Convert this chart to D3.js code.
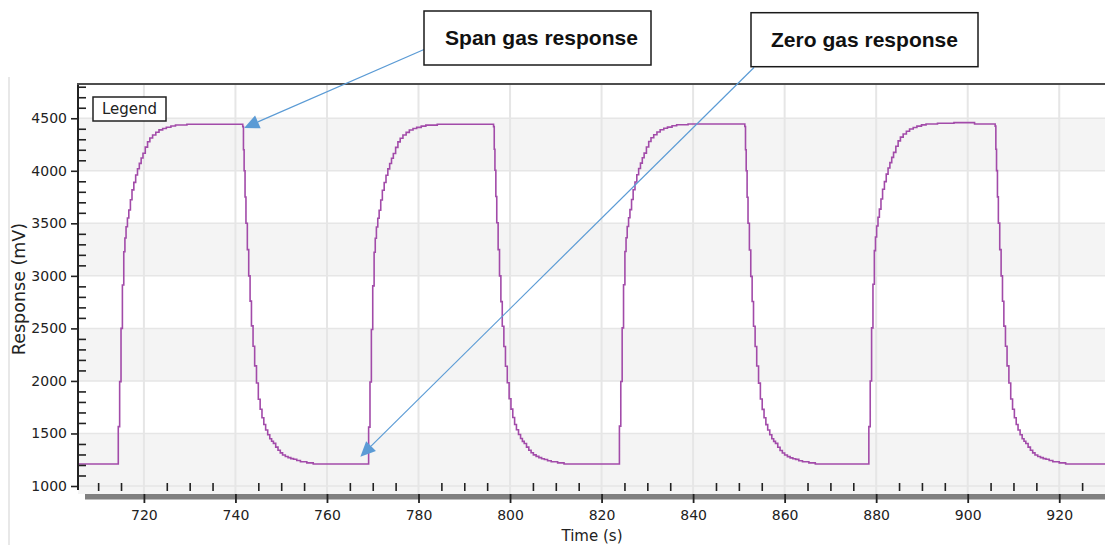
<!DOCTYPE html>
<html>
<head>
<meta charset="utf-8">
<script src="https://cdn.jsdelivr.net/npm/d3@7"></script>
<style>
  html, body { margin: 0; padding: 0; background: #fff; }
  svg { display: block; }
</style>
</head>
<body>
<svg id="chart" width="1105" height="545"></svg>
<script>
// ---------------- DATA ----------------
const time = [
  705.0,
  714.4, 714.7, 715.0, 715.3, 715.6, 715.85, 716.1, 716.4, 716.7, 717.05, 717.4, 717.8, 718.2, 718.6, 719.0, 719.4, 719.8, 720.3, 720.8, 721.3, 721.9, 722.6, 723.3, 724.1, 724.9, 725.9, 726.9, 729.4,
  741.6, 741.75, 741.9, 742.1, 742.3, 742.6, 742.9, 743.2, 743.5, 743.85, 744.2, 744.6, 745.0, 745.4, 745.8, 746.2, 746.6, 747.05, 747.5, 747.9, 748.3, 748.8, 749.3, 749.8, 750.3, 750.9, 751.5, 752.1, 752.7, 753.4, 754.2, 755.6, 757.0,
  769.1, 769.4, 769.7, 770.0, 770.3, 770.55, 770.8, 771.1, 771.4, 771.75, 772.1, 772.5, 772.9, 773.3, 773.7, 774.1, 774.5, 775.0, 775.5, 776.0, 776.6, 777.3, 778.0, 778.8, 779.6, 780.6, 781.6, 784.1,
  796.4, 796.55, 796.7, 796.9, 797.1, 797.4, 797.7, 798.0, 798.3, 798.65, 799.0, 799.4, 799.8, 800.2, 800.6, 801.0, 801.4, 801.85, 802.3, 802.7, 803.1, 803.6, 804.1, 804.6, 805.1, 805.7, 806.3, 806.9, 807.5, 808.2, 809.0, 810.4, 811.8,
  823.9, 824.2, 824.5, 824.8, 825.1, 825.35, 825.6, 825.9, 826.2, 826.55, 826.9, 827.3, 827.7, 828.1, 828.5, 828.9, 829.3, 829.8, 830.3, 830.8, 831.4, 832.1, 832.8, 833.6, 834.4, 835.4, 836.4, 838.9,
  851.3, 851.45, 851.6, 851.8, 852.0, 852.3, 852.6, 852.9, 853.2, 853.55, 853.9, 854.3, 854.7, 855.1, 855.5, 855.9, 856.3, 856.75, 857.2, 857.6, 858.0, 858.5, 859.0, 859.5, 860.0, 860.6, 861.2, 861.8, 862.4, 863.1, 863.9, 865.3, 866.7,
  878.4, 878.7, 879.0, 879.3, 879.6, 879.85, 880.1, 880.4, 880.7, 881.05, 881.4, 881.8, 882.2, 882.6, 883.0, 883.4, 883.8, 884.3, 884.8, 885.3, 885.9, 886.6, 887.3, 888.1, 888.9, 889.9, 890.9, 893.4, 897.0, 901.5,
  906.0, 906.15, 906.3, 906.5, 906.7, 907.0, 907.3, 907.6, 907.9, 908.25, 908.6, 909.0, 909.4, 909.8, 910.2, 910.6, 911.0, 911.45, 911.9, 912.3, 912.7, 913.2, 913.7, 914.2, 914.7, 915.3, 915.9, 916.5, 917.1, 917.8, 918.6, 920.0, 921.4, 932.0
];
const response = [
  1209,
  1565, 1993, 2500, 2913, 3230, 3360, 3468, 3550, 3627, 3725, 3818, 3890, 3960, 4020, 4071, 4122, 4167, 4225, 4277, 4312, 4341, 4367, 4389, 4403, 4414, 4426, 4436, 4443,
  4420, 4200, 4000, 3750, 3500, 3250, 3000, 2760, 2524, 2330, 2143, 1980, 1826, 1730, 1650, 1585, 1533, 1488, 1450, 1426, 1406, 1370, 1340, 1315, 1295, 1281, 1270, 1261, 1254, 1242, 1231, 1220, 1209,
  1560, 1990, 2490, 2905, 3225, 3358, 3465, 3548, 3625, 3722, 3815, 3888, 3958, 4018, 4070, 4120, 4165, 4223, 4275, 4310, 4340, 4366, 4388, 4402, 4413, 4425, 4435, 4443,
  4420, 4205, 4005, 3755, 3505, 3250, 3000, 2755, 2520, 2328, 2140, 1982, 1830, 1732, 1652, 1586, 1535, 1490, 1452, 1425, 1405, 1370, 1340, 1316, 1296, 1282, 1270, 1260, 1252, 1241, 1231, 1220, 1209,
  1570, 1995, 2505, 2915, 3232, 3362, 3470, 3553, 3630, 3727, 3820, 3893, 3962, 4022, 4073, 4124, 4168, 4227, 4279, 4314, 4343, 4369, 4391, 4405, 4416, 4428, 4438, 4445,
  4422, 4200, 4000, 3748, 3500, 3246, 2995, 2756, 2520, 2328, 2142, 1979, 1828, 1729, 1650, 1584, 1533, 1488, 1450, 1425, 1406, 1369, 1338, 1314, 1295, 1280, 1268, 1260, 1253, 1241, 1231, 1220, 1209,
  1565, 2000, 2505, 2920, 3240, 3370, 3475, 3558, 3635, 3732, 3825, 3897, 3968, 4027, 4078, 4128, 4175, 4233, 4285, 4320, 4350, 4376, 4398, 4412, 4425, 4437, 4446, 4452, 4458, 4446,
  4425, 4205, 4002, 3752, 3502, 3250, 3000, 2758, 2522, 2330, 2143, 1980, 1828, 1730, 1650, 1585, 1533, 1488, 1450, 1426, 1405, 1370, 1340, 1315, 1295, 1281, 1270, 1261, 1254, 1242, 1231, 1220, 1209, 1209
];
const xMajorTicks = [720, 740, 760, 780, 800, 820, 840, 860, 880, 900, 920];
const xMinorTicks = [710, 715, 725, 730, 735, 745, 750, 755, 765, 770, 775, 785, 790, 795, 805, 810, 815,
  825, 830, 835, 845, 850, 855, 865, 870, 875, 885, 890, 895, 905, 910, 915, 925, 930];
const yMajorTicks = [1000, 1500, 2000, 2500, 3000, 3500, 4000, 4500];
const yMinorTicks = [1100, 1200, 1300, 1400, 1600, 1700, 1800, 1900, 2100, 2200, 2300, 2400,
  2600, 2700, 2800, 2900, 3100, 3200, 3300, 3400, 3600, 3700, 3800, 3900,
  4100, 4200, 4300, 4400, 4600, 4700, 4800];
const shadedBands = [[1000, 1500], [2000, 2500], [3000, 3500], [4000, 4500]];
const xTitle = "Time (s)";
const yTitle = "Response (mV)";
const legendLabel = "Legend";
// annotations: label and the point (time, response) the arrow points to
const annotationLabels = ["Span gas response", "Zero gas response"];
const annotationTargets = [[741.9, 4408], [767.3, 1279]];

// ---------------- LAYOUT ----------------
const W = 1105, H = 545;
const plotLeft = 78, plotTop = 84, plotRight = 1105, plotBottom = 494;
const FONT = "'DejaVu Sans', Verdana, sans-serif";

const svg = d3.select("#chart");
svg.append("rect").attr("width", W).attr("height", H).attr("fill", "#fff");

const x = d3.scaleLinear().domain([705.6, 930]).range([plotLeft, plotRight]);
const y = d3.scaleLinear().domain([1000, 4826]).range([486, plotTop]);

// faint outer panel line
svg.append("line").attr("x1", 9).attr("x2", 9).attr("y1", 77).attr("y2", H)
  .attr("stroke", "#e8e8e8").attr("stroke-width", 2);

// shaded bands
svg.append("g").selectAll("rect").data(shadedBands).join("rect")
  .attr("x", plotLeft)
  .attr("width", plotRight - plotLeft)
  .attr("y", d => y(d[1]))
  .attr("height", d => (d[0] === 1000 ? plotBottom : y(d[0])) - y(d[1]))
  .attr("fill", "#f4f4f4");

// grid
const grid = svg.append("g");
grid.selectAll("line.h").data(yMajorTicks).join("line").attr("class", "h")
  .attr("x1", plotLeft).attr("x2", plotRight)
  .attr("y1", d => y(d)).attr("y2", d => y(d))
  .attr("stroke", "#e6e6e6").attr("stroke-width", 1.5);
grid.selectAll("line.v").data(xMajorTicks).join("line").attr("class", "v")
  .attr("x1", d => x(d)).attr("x2", d => x(d))
  .attr("y1", plotTop).attr("y2", plotBottom)
  .attr("stroke", "#e6e6e6").attr("stroke-width", 2);

// clip
svg.append("clipPath").attr("id", "clip").append("rect")
  .attr("x", plotLeft + 1).attr("y", plotTop + 1)
  .attr("width", plotRight - plotLeft).attr("height", plotBottom - plotTop - 2);

// series line
const n = Math.min(time.length, response.length);
const pts = d3.range(n).map(i => [time[i], response[i]]);
const line = d3.line().x(d => x(d[0])).y(d => y(d[1])).curve(d3.curveStepAfter);
svg.append("path").attr("clip-path", "url(#clip)")
  .attr("d", line(pts))
  .attr("fill", "none").attr("stroke", "#a24ba9").attr("stroke-width", 1.6);

// y axis: major ticks (left) with labels
const yAxis = svg.append("g").attr("transform", `translate(${plotLeft},0)`)
  .call(d3.axisLeft(y).tickValues(yMajorTicks).tickSize(7).tickPadding(4).tickFormat(d3.format("d")));
yAxis.select(".domain").remove();
yAxis.selectAll(".tick line").attr("stroke", "#222").attr("stroke-width", 1.6);
yAxis.selectAll(".tick text").attr("font-family", FONT).attr("font-size", 14).attr("fill", "#222");
// y minor ticks (right)
const yMinor = svg.append("g").attr("transform", `translate(${plotLeft},0)`)
  .call(d3.axisRight(y).tickValues(yMinorTicks).tickSize(8).tickFormat(""));
yMinor.select(".domain").remove();
yMinor.selectAll(".tick line").attr("stroke", "#222").attr("stroke-width", 1.6);
// y axis line
svg.append("line").attr("x1", plotLeft).attr("x2", plotLeft).attr("y1", plotTop).attr("y2", 490)
  .attr("stroke", "#222").attr("stroke-width", 2);

// x axis: minor ticks above the bar
const xMinor = svg.append("g").attr("transform", "translate(0,483)")
  .call(d3.axisBottom(x).tickValues(xMinorTicks.filter(v => x(v) > plotLeft + 8 && x(v) < plotRight)).tickSize(8).tickFormat(""));
xMinor.select(".domain").remove();
xMinor.selectAll(".tick line").attr("stroke", "#222").attr("stroke-width", 1.6);
// grey bar
svg.append("rect").attr("x", 85).attr("y", plotBottom).attr("width", plotRight - 85).attr("height", 5.5)
  .attr("fill", "#808080");
// major ticks + labels
const xAxis = svg.append("g").attr("transform", `translate(0,${plotBottom})`)
  .call(d3.axisBottom(x).tickValues(xMajorTicks).tickSize(9).tickPadding(7).tickFormat(d3.format("d")));
xAxis.select(".domain").remove();
xAxis.selectAll(".tick line").attr("stroke", "#222").attr("stroke-width", 1.8);
xAxis.selectAll(".tick text").attr("font-family", FONT).attr("font-size", 14).attr("fill", "#222");

// top border
svg.append("line").attr("x1", plotLeft - 1).attr("x2", plotRight).attr("y1", plotTop).attr("y2", plotTop)
  .attr("stroke", "#4d4d4d").attr("stroke-width", 2);

// axis titles
svg.append("text").attr("transform", "translate(25,289) rotate(-90)")
  .attr("text-anchor", "middle").attr("font-family", FONT).attr("font-size", 17.5).attr("fill", "#222")
  .text(yTitle);
svg.append("text").attr("x", 592).attr("y", 541)
  .attr("text-anchor", "middle").attr("font-family", FONT).attr("font-size", 15).attr("fill", "#222")
  .text(xTitle);

// legend box
svg.append("rect").attr("x", 93).attr("y", 97).attr("width", 73).attr("height", 24)
  .attr("fill", "#fff").attr("stroke", "#222").attr("stroke-width", 1.5);
svg.append("text").attr("x", 129.5).attr("y", 114.3).attr("text-anchor", "middle")
  .attr("font-family", FONT).attr("font-size", 15).attr("fill", "#222").text(legendLabel);

// annotations
const boxes = [
  { x: 424, y: 11, w: 227, h: 54, tx: 541.5, ty: 44.5, tl: 193, from: [424, 49.5] },
  { x: 751, y: 12.7, w: 227, h: 54, tx: 864.5, ty: 46.5, tl: 187, from: [754, 67.5] }
];
const arrowColor = "#5b9bd5";
annotationLabels.forEach((label, i) => {
  const b = boxes[i];
  const tgt = [x(annotationTargets[i][0]), y(annotationTargets[i][1])];
  const dx = tgt[0] - b.from[0], dy = tgt[1] - b.from[1];
  const len = Math.hypot(dx, dy), ux = dx / len, uy = dy / len;
  const headLen = 15, headHalf = 7;
  const bx = tgt[0] - ux * headLen, by = tgt[1] - uy * headLen;
  svg.append("line").attr("x1", b.from[0]).attr("y1", b.from[1]).attr("x2", bx).attr("y2", by)
    .attr("stroke", arrowColor).attr("stroke-width", 1.2);
  svg.append("path")
    .attr("d", `M${tgt[0]},${tgt[1]}L${bx - uy * headHalf},${by + ux * headHalf}L${bx + uy * headHalf},${by - ux * headHalf}Z`)
    .attr("fill", arrowColor);
  svg.append("rect").attr("x", b.x).attr("y", b.y).attr("width", b.w).attr("height", b.h)
    .attr("fill", "#fff").attr("stroke", "#1a1a1a").attr("stroke-width", 1.5);
  svg.append("text").attr("x", b.tx).attr("y", b.ty).attr("text-anchor", "middle")
    .attr("font-family", "'Liberation Sans', Arial, sans-serif").attr("font-weight", "bold")
    .attr("font-size", 21).attr("fill", "#111")
    .attr("textLength", b.tl).attr("lengthAdjust", "spacingAndGlyphs")
    .text(label);
});
</script>
</body>
</html>
